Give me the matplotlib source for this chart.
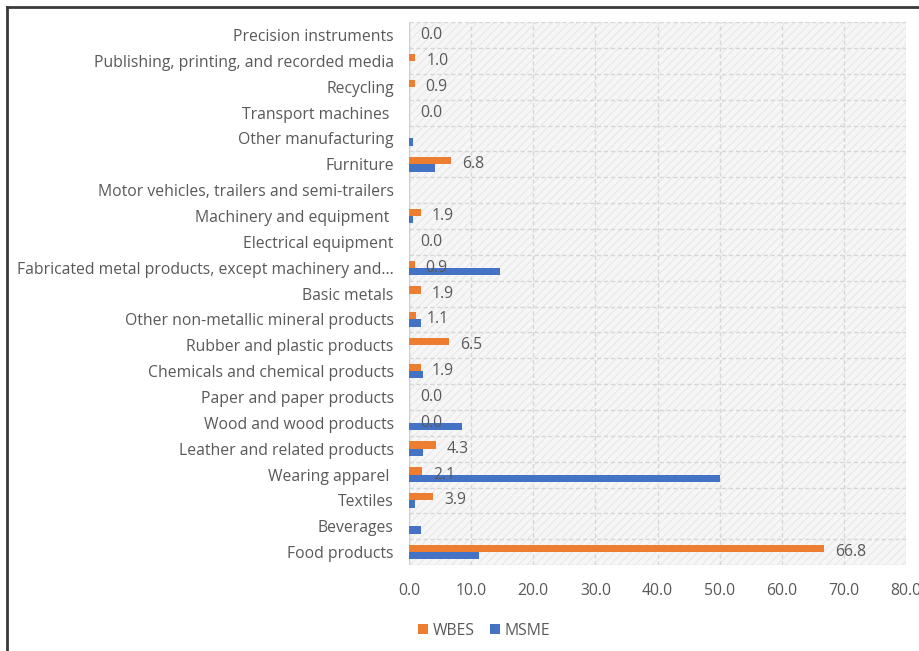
import numpy as np
import matplotlib
matplotlib.use("Agg")
import matplotlib.pyplot as plt
from matplotlib.lines import Line2D
from matplotlib.patches import Rectangle, Patch

plt.rcParams['font.family'] = ['Open Sans', 'DejaVu Sans']
plt.rcParams['hatch.linewidth'] = 0.6
plt.rcParams['hatch.color'] = '#e2e2e2'

# categories listed top to bottom as in the chart
categories = [
    "Precision instruments",
    "Publishing, printing, and recorded media",
    "Recycling",
    "Transport machines ",
    "Other manufacturing",
    "Furniture",
    "Motor vehicles, trailers and semi-trailers",
    "Machinery and equipment ",
    "Electrical equipment",
    "Fabricated metal products, except machinery and...",
    "Basic metals",
    "Other non-metallic mineral products",
    "Rubber and plastic products",
    "Chemicals and chemical products",
    "Paper and paper products",
    "Wood and wood products",
    "Leather and related products",
    "Wearing apparel ",
    "Textiles",
    "Beverages",
    "Food products",
]

# NaN = no value shown
wbes = [0.0, 1.0, 0.9, 0.0, np.nan, 6.8, np.nan, 1.9, 0.0, 0.9, 1.9,
        1.1, 6.5, 1.9, 0.0, 0.0, 4.3, 2.1, 3.9, np.nan, 66.8]
msme = [0.0, 0.0, 0.0, 0.0, 0.6, 4.2, 0.0, 0.6, 0.0, 14.6, 0.0,
        2.0, 0.0, 2.3, 0.0, 8.5, 2.3, 50.0, 1.0, 1.9, 11.2]

xticks = [0, 10, 20, 30, 40, 50, 60, 70, 80]

ORANGE = "#ED7D31"
BLUE = "#4472C4"
TXT = "#595959"
GRID = "#d6d6d6"
FS = 11.3

fig = plt.figure(figsize=(9.19, 6.51), dpi=100)
ax = fig.add_axes([0.445, 0.132, 0.541, 0.834])

y = np.arange(len(categories))
h = 0.28
w = np.nan_to_num(np.array(wbes, dtype=float))
m = np.array(msme, dtype=float)

# hatched plot-area background
ax.add_patch(Rectangle((0, 0), 1, 1, transform=ax.transAxes, facecolor="#f6f6f6",
                       hatch="////", edgecolor="#e4e4e4", linewidth=0, zorder=0))

ax.barh(y - h / 2, w, height=h, color=ORANGE, zorder=3, label="WBES")
ax.barh(y + h / 2, m, height=h, color=BLUE, zorder=3, label="MSME")

for yi, v in zip(y, wbes):
    if np.isnan(v):
        continue
    ax.annotate(f"{v:.1f}", xy=(v, yi), xytext=(8, 0), textcoords="offset points",
                ha="left", va="center", fontsize=FS, color=TXT, zorder=4)

ax.set_xlim(0, 80)
ax.set_ylim(len(categories) - 0.5, -0.5)
ax.set_xticks(xticks)
ax.set_xticklabels([f"{t:.1f}" for t in xticks])
ax.set_yticks(y)
ax.set_yticklabels(categories)
ax.set_yticks(np.arange(-0.5, len(categories), 1.0), minor=True)
ax.tick_params(axis="both", which="both", length=0, labelsize=FS, labelcolor=TXT)
ax.tick_params(axis="x", pad=13)
ax.tick_params(axis="y", pad=11)

ax.grid(axis="x", which="major", color=GRID, linestyle=(0, (3, 2)), linewidth=1.0, zorder=1)
ax.grid(axis="y", which="minor", color=GRID, linestyle=(0, (3, 2)), linewidth=1.0, zorder=1)
ax.set_axisbelow(True)
for s in ax.spines.values():
    s.set_visible(False)
ax.axvline(0, color="#d0d0d0", linewidth=1.0, zorder=2)

handles = [Patch(facecolor=ORANGE), Patch(facecolor=BLUE)]
fig.legend(handles, ["WBES", "MSME"], loc="center left", bbox_to_anchor=(0.44, 0.031),
           ncol=2, frameon=False, fontsize=FS, labelcolor=TXT, handlelength=0.6,
           handleheight=0.6, handletextpad=0.3, columnspacing=1.0)

# outer frame (left and top only)
fig.add_artist(Line2D([0.0075, 0.0075], [0, 0.989], transform=fig.transFigure,
                      color="#3a3a3a", linewidth=2))
fig.add_artist(Line2D([0.0075, 1.0], [0.989, 0.989], transform=fig.transFigure,
                      color="#3a3a3a", linewidth=2))

fig.savefig("out.png", dpi=100)
